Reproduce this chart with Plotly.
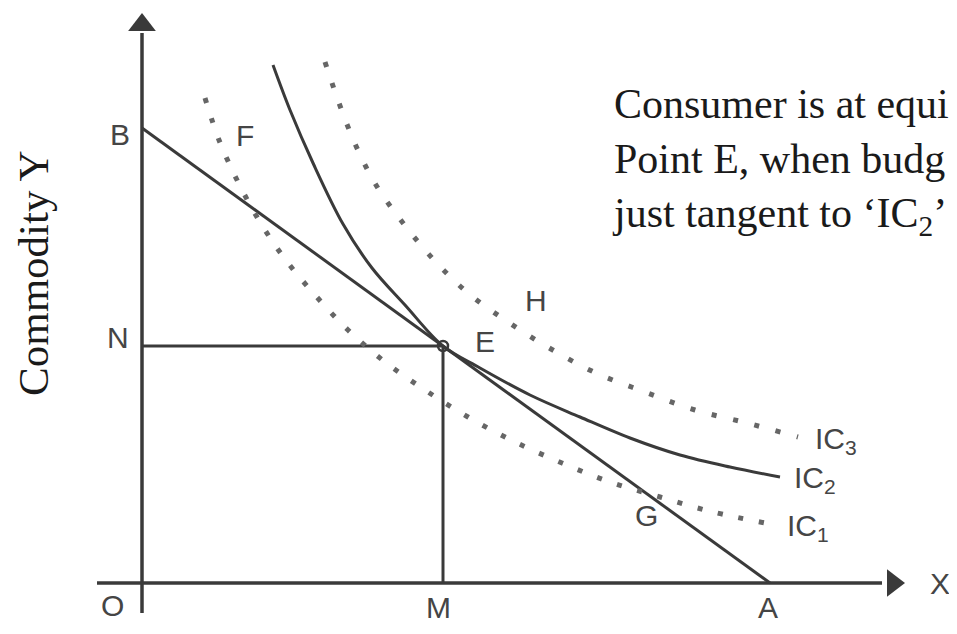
import plotly.graph_objects as go

# ---- diagram data (x: units of commodity X, y: units of commodity Y) ----
budget_x = [0.0, 62.8]          # B -> A
budget_y = [45.5, 0.0]

E_x, E_y = 30.1, 23.7            # equilibrium point

ic1_x = [6.3, 7.7, 9.6, 11.8, 14.3, 17.3, 20.6, 24.3, 28.3, 32.6, 37.1, 42.0, 46.8, 51.8, 57.1, 62.3]
ic1_y = [48.5, 44.3, 40.1, 36.1, 32.4, 28.8, 25.3, 22.1, 19.3, 16.6, 14.2, 12.0, 10.1, 8.6, 7.1, 6.0]

ic2_x = [13.1, 14.8, 17.1, 20.1, 23.0, 26.3, 30.1, 33.8, 38.8, 43.8, 48.8, 53.8, 58.8, 63.8]
ic2_y = [51.8, 47.3, 42.0, 35.9, 31.5, 27.8, 23.7, 21.5, 18.8, 16.6, 14.5, 12.8, 11.6, 10.6]

ic3_x = [18.3, 19.7, 21.4, 23.4, 26.1, 29.2, 32.6, 36.6, 40.9, 45.4, 50.3, 55.3, 60.5, 65.6]
ic3_y = [52.1, 48.0, 43.7, 39.8, 36.0, 32.3, 29.0, 26.1, 23.4, 21.0, 19.1, 17.3, 16.0, 14.6]

# axis extents
y_axis_span = [-3.0, 55.0]
x_axis_span = [-4.5, 74.0]
y_arrow_at = 55.8
x_arrow_at = 75.1

# point labels: text, x, y
point_labels = [
    ("B", -2.2, 44.9), ("F", 10.3, 44.8), ("N", -2.4, 24.6), ("O", -3.0, -2.2),
    ("M", 29.6, -2.4), ("A", 62.6, -2.4), ("X", 79.8, 0.0), ("E", 34.3, 24.2),
    ("H", 39.4, 28.3), ("G", 50.4, 6.8),
]
ic_labels = [
    ("IC<sub>3</sub>", 67.1, 14.3), ("IC<sub>2</sub>", 65.0, 10.4), ("IC<sub>1</sub>", 64.3, 5.6),
]

note_lines = ["Consumer is at equi", "Point E, when budg", "just tangent to ‘IC<sub>2</sub>’"]
y_title = "Commodity Y"

INK = "#3a3a3a"
LABEL = "#454545"
DOT = "#666666"

fig = go.Figure()

# axes
fig.add_trace(go.Scatter(x=[0, 0], y=y_axis_span, mode="lines",
                         line=dict(color=INK, width=3.5), hoverinfo="skip"))
fig.add_trace(go.Scatter(x=x_axis_span, y=[0, 0], mode="lines",
                         line=dict(color=INK, width=3.5), hoverinfo="skip"))
fig.add_trace(go.Scatter(x=[0], y=[y_arrow_at], mode="markers",
                         marker=dict(symbol="triangle-up", size=24, color=INK), hoverinfo="skip"))
fig.add_trace(go.Scatter(x=[x_arrow_at], y=[0], mode="markers",
                         marker=dict(symbol="triangle-right", size=24, color=INK), hoverinfo="skip"))

# budget line
fig.add_trace(go.Scatter(x=budget_x, y=budget_y, mode="lines",
                         line=dict(color=INK, width=3), hoverinfo="skip"))

# N-E and M-E guide lines
fig.add_trace(go.Scatter(x=[0, E_x], y=[E_y, E_y], mode="lines",
                         line=dict(color=INK, width=3), hoverinfo="skip"))
fig.add_trace(go.Scatter(x=[E_x, E_x], y=[0, E_y], mode="lines",
                         line=dict(color=INK, width=3), hoverinfo="skip"))

# indifference curves
fig.add_trace(go.Scatter(x=ic1_x, y=ic1_y, mode="lines",
                         line=dict(color=DOT, width=5, shape="spline", dash="5px,16px"),
                         hoverinfo="skip"))
fig.add_trace(go.Scatter(x=ic3_x, y=ic3_y, mode="lines",
                         line=dict(color=DOT, width=5, shape="spline", dash="5px,17px"),
                         hoverinfo="skip"))
fig.add_trace(go.Scatter(x=ic2_x, y=ic2_y, mode="lines",
                         line=dict(color=INK, width=3, shape="spline", smoothing=1.0),
                         hoverinfo="skip"))

# equilibrium point marker
fig.add_trace(go.Scatter(x=[E_x], y=[E_y], mode="markers",
                         marker=dict(symbol="circle-open", size=10, color=INK, line=dict(width=2.5)),
                         hoverinfo="skip"))

annotations = []
for t, x, y in point_labels:
    annotations.append(dict(x=x, y=y, text=t, showarrow=False, xanchor="center", yanchor="middle",
                            font=dict(family="Liberation Sans, Arial, sans-serif", size=30, color=LABEL)))
for t, x, y in ic_labels:
    annotations.append(dict(x=x, y=y, text=t, showarrow=False, xanchor="left", yanchor="middle",
                            font=dict(family="Liberation Sans, Arial, sans-serif", size=30, color=LABEL)))

annotations.append(dict(
    x=46.8, y=50.4, xanchor="left", yanchor="top", align="left", showarrow=False,
    text="<br>".join(note_lines),
    font=dict(family="Liberation Serif, Times New Roman, serif", size=42, color="#1a1a1a")))
annotations.append(dict(
    x=-10.9, y=31.0, xanchor="center", yanchor="middle", textangle=-90, showarrow=False,
    text=y_title,
    font=dict(family="Liberation Serif, Times New Roman, serif", size=43, color="#1a1a1a")))

# the page body adds an 8px offset, so the figure is sized to fill the rest of the window
fig.update_layout(
    width=949, height=626,
    margin=dict(l=0, r=0, t=0, b=0),
    paper_bgcolor="white", plot_bgcolor="white",
    showlegend=False,
    xaxis=dict(range=[-13.4, 81.5], visible=False, fixedrange=True),
    yaxis=dict(range=[-5.1, 57.5], visible=False, fixedrange=True),
    annotations=annotations,
)
fig.update_traces(cliponaxis=False)

fig.write_html("out.html")
